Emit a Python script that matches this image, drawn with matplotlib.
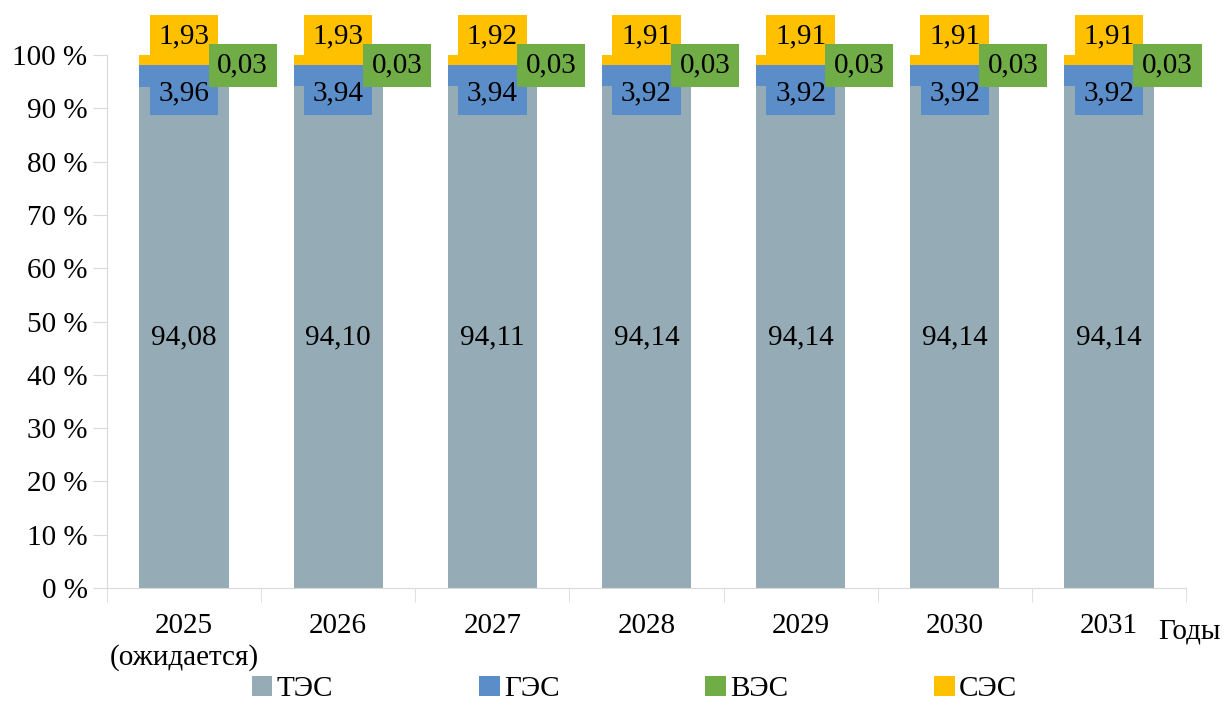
import numpy as np
import matplotlib
matplotlib.use("Agg")
import matplotlib.pyplot as plt

plt.rcParams['font.family'] = ['Liberation Serif', 'DejaVu Serif']

years = ['2025\n(ожидается)', '2026', '2027', '2028', '2029', '2030', '2031']
series = ['ТЭС', 'ГЭС', 'ВЭС', 'СЭС']
tes = [94.08, 94.10, 94.11, 94.14, 94.14, 94.14, 94.14]
ges = [3.96, 3.94, 3.94, 3.92, 3.92, 3.92, 3.92]
ves = [0.03, 0.03, 0.03, 0.03, 0.03, 0.03, 0.03]
ses = [1.93, 1.93, 1.92, 1.91, 1.91, 1.91, 1.91]

colors = ['#95abb5', '#5b8dc8', '#70ad47', '#ffc000']
fs = 21


def fmt(v):
    return f"{v:.2f}".replace('.', ',')


fig = plt.figure(figsize=(12.23, 7.02), dpi=100)
ax = fig.add_axes([107 / 1223, 114 / 702, 1079 / 1223, 533 / 702])

x = np.arange(len(years))
w = 0.58
bottom = np.zeros(len(years))
for name, vals, c in zip(series, [tes, ges, ves, ses], colors):
    ax.bar(x, vals, w, bottom=bottom, color=c, label=name, zorder=2)
    bottom += np.array(vals)

# подписи
for i in range(len(years)):
    ax.text(x[i], tes[i] / 2, fmt(tes[i]), ha='center', va='center', fontsize=fs)
    ax.text(x[i], 92.8, fmt(ges[i]), ha='center', va='center', fontsize=fs, zorder=4,
            bbox=dict(boxstyle='square,pad=0.3', fc=colors[1], ec='none'))
    ax.text(x[i], 103.5, fmt(ses[i]), ha='center', va='center', fontsize=fs, zorder=4,
            clip_on=False, bbox=dict(boxstyle='square,pad=0.3', fc=colors[3], ec='none'))
    ax.text(x[i] + 0.38, 98.0, fmt(ves[i]), ha='center', va='center', fontsize=fs, zorder=5,
            clip_on=False, bbox=dict(boxstyle='square,pad=0.3', fc=colors[2], ec='none'))

ax.set_xlim(-0.5, len(years) - 0.5)
ax.set_ylim(0, 100)
ax.set_yticks(np.arange(0, 101, 10))
ax.set_yticklabels([f"{v} %" for v in range(0, 101, 10)], fontsize=fs)
ax.set_xticks(x)
ax.set_xticklabels(years, fontsize=fs, linespacing=1.25)
ax.set_xticks(np.arange(-0.5, len(years), 1), minor=True)
ax.tick_params(axis='x', which='major', length=0, pad=18)
ax.tick_params(axis='x', which='minor', length=10, color='#d9d9d9')
ax.tick_params(axis='y', length=10, color='#d9d9d9', pad=4)

for s in ['top', 'right']:
    ax.spines[s].set_visible(False)
ax.spines['left'].set_color('#d9d9d9')
ax.spines['bottom'].set_color('#d9d9d9')

fig.text(1158 / 1223, 1 - 632 / 702, 'Годы', fontsize=fs, ha='left', va='center')

ax.legend(loc='center', bbox_to_anchor=(0.489, -0.19), ncol=4, frameon=False, fontsize=fs,
          handlelength=0.7, handleheight=0.7, handletextpad=0.15, columnspacing=5.0)

fig.savefig('out.png', dpi=100)
